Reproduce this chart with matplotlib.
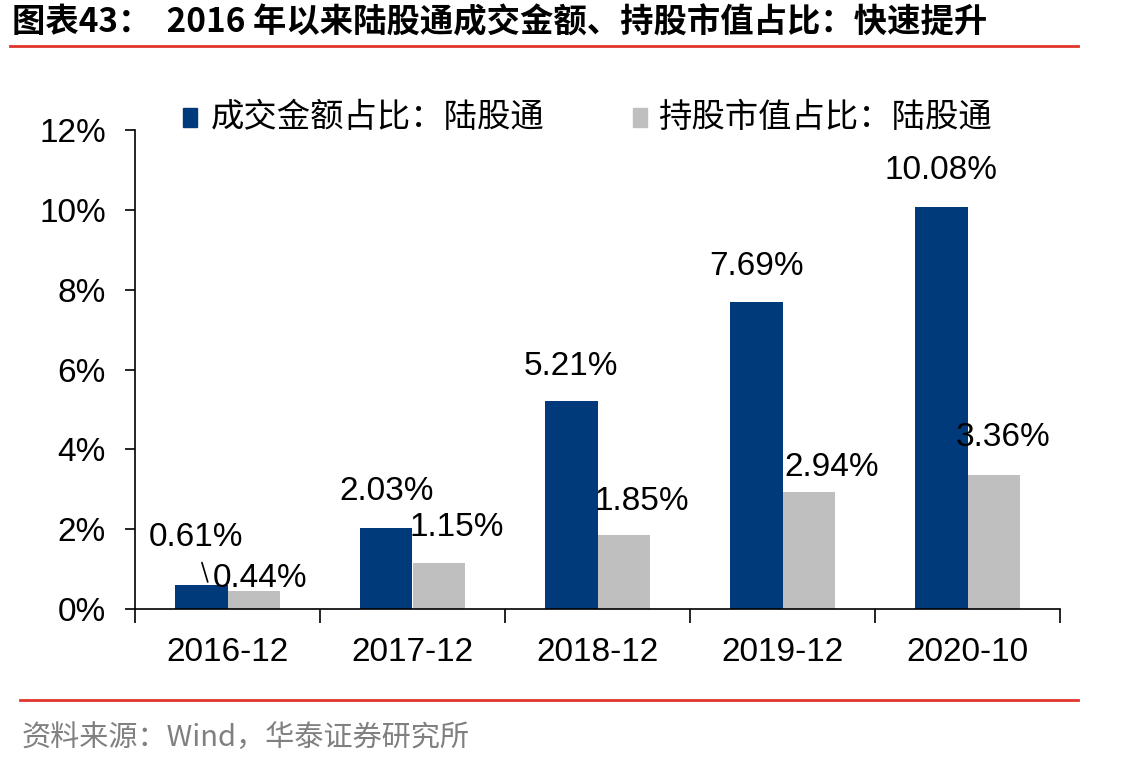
import matplotlib
matplotlib.use("Agg")
import matplotlib.pyplot as plt
from matplotlib.patches import Rectangle
from matplotlib.lines import Line2D
import numpy as np

plt.rcParams['font.family'] = ['Liberation Sans', 'Noto Sans CJK SC', 'DejaVu Sans']

# data
categories = ['2016-12', '2017-12', '2018-12', '2019-12', '2020-10']
turnover_share = [0.61, 2.03, 5.21, 7.69, 10.08]   # 成交金额占比：陆股通
holding_share = [0.44, 1.15, 1.85, 2.94, 3.36]     # 持股市值占比：陆股通
series_names = ['成交金额占比：陆股通', '持股市值占比：陆股通']
y_ticks = [0, 2, 4, 6, 8, 10, 12]

# label offsets in pixels (dx, dy) - labels sit where the original put them
blue_offsets = [(-5, 47), (0, 36), (0, 35), (0, 36), (0, 36)]
gray_offsets = [(6, 13), (18, 36), (18, 34), (23, 24), (9, 37)]

blue = '#003A7A'
gray = '#BFBFBF'
red = '#E0352B'

fig = plt.figure(figsize=(11.37, 7.67), dpi=100)
ax = fig.add_axes([135 / 1137, 1 - 609 / 767, 925 / 1137, 479 / 767])

x = np.arange(len(categories))
w = 0.285
ax.bar(x - w / 2, turnover_share, width=w, color=blue)
ax.bar(x + w / 2, holding_share, width=w, color=gray)

for i in range(len(categories)):
    dx, dy = blue_offsets[i]
    ax.annotate(f'{turnover_share[i]:.2f}%', (x[i] - w / 2, turnover_share[i]),
                xytext=(dx, dy), textcoords='offset pixels',
                ha='center', va='center', fontsize=24)
    dx, dy = gray_offsets[i]
    ax.annotate(f'{holding_share[i]:.2f}%', (x[i] + w / 2, holding_share[i]),
                xytext=(dx, dy), textcoords='offset pixels',
                ha='center', va='center', fontsize=24)

# small leader line for the first blue label
ax.annotate('', xy=(x[0] - w / 2 + 0.04, turnover_share[0]),
            xytext=(x[0] - w / 2, turnover_share[0] + 0.62),
            arrowprops=dict(arrowstyle='-', color='black', lw=1.2))

ax.set_xlim(-0.5, len(categories) - 0.5)
ax.set_ylim(0, 12)
ax.set_yticks(y_ticks)
ax.set_yticklabels([f'{v}%' for v in y_ticks], fontsize=24)
ax.set_xticks(np.arange(len(categories) + 1) - 0.5)
ax.set_xticklabels([])
ax.set_xticks(x, minor=True)
ax.set_xticklabels(categories, minor=True, fontsize=24)
ax.tick_params(axis='x', which='major', length=10, width=1.2, direction='out')
ax.tick_params(axis='x', which='minor', length=0, pad=20)
ax.tick_params(axis='y', length=7, width=1.2, direction='out', pad=14)
for s in ['top', 'right']:
    ax.spines[s].set_visible(False)
for s in ['left', 'bottom']:
    ax.spines[s].set_linewidth(1.2)

# legend drawn by hand
fig.patches.append(Rectangle((183 / 1137, 1 - 127 / 767), 14 / 1137, 19 / 767,
                             transform=fig.transFigure, color=blue))
fig.text(211 / 1137, 1 - 118 / 767, series_names[0], fontsize=24,
         family=['Noto Sans CJK SC'], va='center')
fig.patches.append(Rectangle((633 / 1137, 1 - 127 / 767), 14 / 1137, 19 / 767,
                             transform=fig.transFigure, color=gray))
fig.text(658 / 1137, 1 - 118 / 767, series_names[1], fontsize=24,
         family=['Noto Sans CJK SC'], va='center')

# title, rules, source
fig.text(12 / 1137, 1 - 23 / 767, '图表43：  2016 年以来陆股通成交金额、持股市值占比：快速提升',
         fontsize=24, fontweight='bold', va='center',
         family=['Noto Sans CJK SC', 'DejaVu Sans'])
fig.lines.append(Line2D([10 / 1137, 1078 / 1137], [1 - 46 / 767] * 2,
                        transform=fig.transFigure, color=red, lw=2))
fig.lines.append(Line2D([20 / 1137, 1078 / 1137], [1 - 700 / 767] * 2,
                        transform=fig.transFigure, color=red, lw=2))
fig.text(22 / 1137, 1 - 738 / 767, '资料来源：Wind，华泰证券研究所', fontsize=21,
         color='#808080', va='center', family=['Noto Sans CJK SC', 'DejaVu Sans'])

fig.savefig('out.png', dpi=100)
